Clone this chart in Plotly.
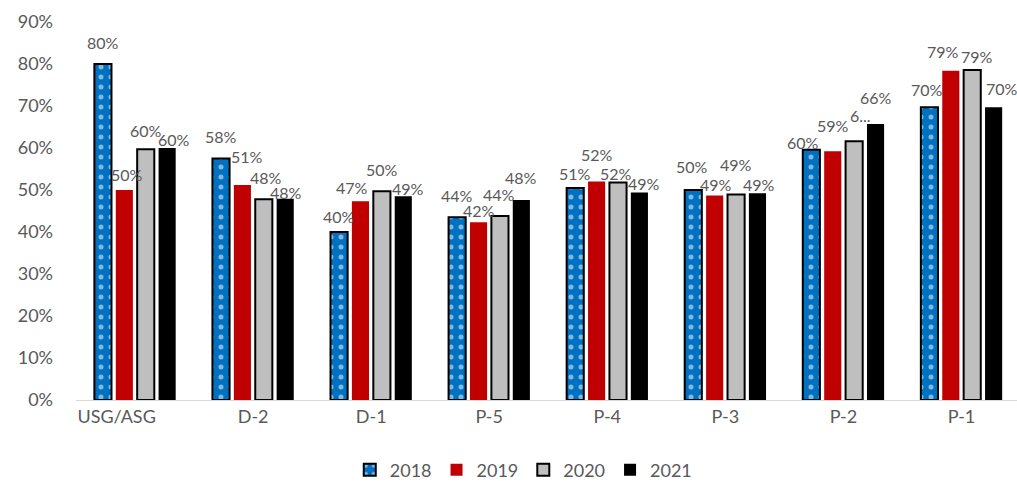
import plotly.graph_objects as go

categories = ["USG/ASG", "D-2", "D-1", "P-5", "P-4", "P-3", "P-2", "P-1"]
years = ["2018", "2019", "2020", "2021"]
v2018 = [80.0, 57.5, 40.0, 43.5, 50.5, 50.0, 59.6, 69.7]
v2019 = [50.0, 51.2, 47.3, 42.3, 52.0, 48.7, 59.2, 78.4]
v2020 = [59.7, 47.8, 49.7, 43.8, 51.8, 48.9, 61.6, 78.6]
v2021 = [60.0, 47.9, 48.5, 47.6, 49.4, 49.2, 65.7, 69.7]
labels2018 = ["80%", "58%", "40%", "44%", "51%", "50%", "60%", "70%"]
labels2019 = ["50%", "51%", "47%", "42%", "52%", "49%", "59%", "79%"]
labels2020 = ["60%", "48%", "50%", "44%", "52%", "49%", "6...", "79%"]
labels2021 = ["60%", "48%", "49%", "48%", "49%", "49%", "66%", "70%"]

# label placement styling (pixel offsets of label centre from bar top centre), mimicking Excel's smart placement
offsets2018 = [(0, 22), (0, 22), (0, 16), (0, 22), (0, 14), (-1, 24), (-8.5, 7), (-2, 18)]
offsets2019 = [(2.5, 16), (5, 28), (-8, 14), (0, 12), (0, 27), (1, 11), (0, 26), (-8, 19)]
offsets2020 = [(0, 19), (2, 22), (0, 22), (-1, 22), (-2, 9), (0, 30), (6, 26), (5, 13)]
offsets2021 = [(7, 8.5), (1, 6), (4.5, 8), (0, 23), (5, 9), (2, 9), (0, 27), (8, 19)]

font_family = "Lato, Open Sans, sans-serif"
txt_color = "#595959"

W, H = 1017, 491
ML, MR, MT, MB = 76, 0, 22, 91
XMAX = 7.47
BARGAP, BARGROUPGAP = 0.275, 0.2

series = [
    (years[0], v2018, labels2018, offsets2018,
     dict(color="#0070C0", line=dict(color="#000000", width=2),
          pattern=dict(shape=".", fgcolor="white", bgcolor="#0070C0", size=10, solidity=0.2))),
    (years[1], v2019, labels2019, offsets2019, dict(color="#C00000", line=dict(color="#C00000", width=0))),
    (years[2], v2020, labels2020, offsets2020, dict(color="#BFBFBF", line=dict(color="#000000", width=2))),
    (years[3], v2021, labels2021, offsets2021, dict(color="#000000", line=dict(color="#000000", width=0))),
]

fig = go.Figure()
cat_px = (W - ML - MR) / (XMAX + 0.5)
slot = cat_px * (1 - BARGAP) / len(series)
annotations = []
for i, (name, vals, labs, offs, marker) in enumerate(series):
    fig.add_trace(go.Bar(x=categories, y=vals, name=name, marker=marker))
    base_shift = (i - (len(series) - 1) / 2) * slot
    for cat, v, lab, (dx, dy) in zip(categories, vals, labs, offs):
        annotations.append(dict(
            x=cat, y=v, xref="x", yref="y", text=lab, showarrow=False,
            xshift=base_shift + dx, yshift=dy, xanchor="center", yanchor="middle",
            borderpad=0, font=dict(family=font_family, size=16, color=txt_color),
        ))

tick_text = [c + "\u00a0" * 8 if c == "USG/ASG" else c for c in categories]

fig.update_layout(
    width=W, height=H,
    margin=dict(l=ML, r=MR, t=MT, b=MB),
    paper_bgcolor="white", plot_bgcolor="white",
    barmode="group", bargap=BARGAP, bargroupgap=BARGROUPGAP,
    font=dict(family=font_family, color=txt_color),
    annotations=annotations,
    legend=dict(orientation="h", xref="container", yref="container", x=0.515, xanchor="center",
                y=0.005, yanchor="bottom", font=dict(size=18, color=txt_color), traceorder="normal",
                itemwidth=30),
    showlegend=True,
)
fig.update_yaxes(range=[0, 90], tickvals=[0, 10, 20, 30, 40, 50, 60, 70, 80, 90],
                 ticktext=["0%", "10%", "20%", "30%", "40%", "50%", "60%", "70%", "80%", "90%"],
                 showgrid=False, zeroline=False, showline=False, ticks="",
                 tickfont=dict(size=18, color=txt_color), ticklabelstandoff=22)
fig.update_xaxes(range=[-0.5, XMAX], showgrid=False, showline=True, linecolor="#D9D9D9", linewidth=1,
                 ticks="", tickvals=categories, ticktext=tick_text,
                 tickfont=dict(size=18, color=txt_color))

fig.write_html("out.html")
